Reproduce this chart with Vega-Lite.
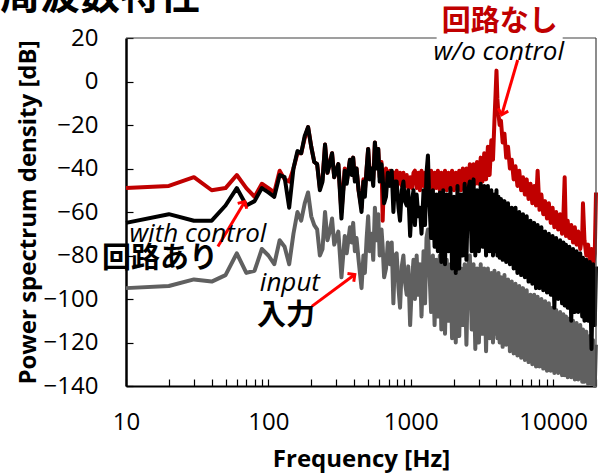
{
"$schema": "https://vega.github.io/schema/vega-lite/v6.json",
"width": 470, "height": 348,
"autosize": {"type": "none"},
"padding": {"left": 126, "top": 38, "right": 3, "bottom": 88},
"config": {"view": {"stroke": null}, "font": "Open Sans", "axis": {"grid": false}},
"datasets": {
"psd": [
{"f":10,"r":-49,"k":-65,"g":-95},{"f":20,"r":-48,"k":-61,"g":-94},{"f":30,"r":-44,"k":-64,"g":-91},{"f":40,"r":-50,"k":-64,"g":-92},{"f":50,"r":-49,"k":-57,"g":-89},{"f":60,"r":-43,"k":-49,"g":-79},{"f":70,"r":-49,"k":-57,"g":-88},{"f":80,"r":-53,"k":-55,"g":-87},{"f":90,"r":-47,"k":-49,"g":-77},{"f":100,"r":-49,"k":-51,"g":-80},
{"f":110,"r":-51,"k":-53,"g":-84},{"f":120,"r":-41,"k":-43,"g":-73},{"f":130,"r":-45,"k":-44,"g":-76},{"f":140,"r":-46,"k":-58,"g":-84},{"f":150,"r":-40,"k":-40,"g":-70},{"f":160,"r":-33,"k":-32,"g":-60},{"f":170,"r":-33,"k":-33,"g":-64},{"f":180,"r":-26,"k":-25,"g":-56},{"f":190,"r":-21,"k":-21,"g":-51},{"f":200,"r":-30,"k":-30,"g":-62},
{"f":210,"r":-37,"k":-37,"g":-66},{"f":220,"r":-38,"k":-38,"g":-68},{"f":230,"r":-49,"k":-50,"g":-80},{"f":240,"r":-45,"k":-46,"g":-77},{"f":250,"r":-29,"k":-29,"g":-60},{"f":260,"r":-42,"k":-42,"g":-73},{"f":270,"r":-37,"k":-38,"g":-69},{"f":280,"r":-33,"k":-33,"g":-63},{"f":290,"r":-44,"k":-44,"g":-75},{"f":300,"r":-41,"k":-41,"g":-72},
{"f":310,"r":-38,"k":-38,"g":-69},{"f":326,"r":-60,"k":-63,"g":-90},{"f":344,"r":-40,"k":-41,"g":-71},{"f":355,"r":-46,"k":-47,"g":-79},{"f":374,"r":-36,"k":-36,"g":-67},{"f":385,"r":-42,"k":-43,"g":-74},{"f":394,"r":-35,"k":-35,"g":-65},{"f":405,"r":-45,"k":-46,"g":-78},{"f":416,"r":-40,"k":-40,"g":-72},{"f":430,"r":-50,"k":-50,"g":-82},
{"f":451,"r":-58,"k":-60,"g":-95},{"f":465,"r":-45,"k":-46,"g":-80},{"f":476,"r":-50,"k":-53,"g":-88},{"f":490,"r":-40,"k":-40,"g":-72},{"f":502,"r":-31,"k":-31,"g":-62},{"f":515,"r":-42,"k":-45,"g":-78},{"f":530,"r":-40,"k":-40,"g":-70},{"f":545,"r":-45,"k":-48,"g":-82},{"f":560,"r":-28,"k":-28,"g":-58},{"f":575,"r":-38,"k":-40,"g":-73},
{"f":591,"r":-31,"k":-31,"g":-61},{"f":605,"r":-44,"k":-46,"g":-80},{"f":623,"r":-37,"k":-38,"g":-68},{"f":635,"r":-64,"k":-44,"g":-76},{"f":650,"r":-42,"k":-56,"g":-90},{"f":670,"r":-40,"k":-53,"g":-86},{"f":690,"r":-45,"k":-42,"g":-74},{"f":714,"r":-41,"k":-48,"g":-84},{"f":735,"r":-47,"k":-41,"g":-74},{"f":755,"r":-42,"k":-60,"g":-102},
{"f":775,"r":-46,"k":-46,"g":-80},{"f":796,"r":-41,"k":-46,"g":-79},{"f":820,"r":-47,"k":-58,"g":-95},{"f":841,"r":-42,"k":-64,"g":-104},{"f":865,"r":-48,"k":-50,"g":-85},{"f":888,"r":-42,"k":-46,"g":-80},{"f":910,"r":-48,"k":-55,"g":-92},{"f":937,"r":-43,"k":-57,"g":-98},{"f":960,"r":-49,"k":-50,"g":-85},{"f":990,"r":-44,"k":-71,"g":-112},
{"f":1020,"r":-49,"k":-55,"g":-92},{"f":1045,"r":-42,"k":-50,"g":-82},{"f":1070,"r":-41,"k":-66,"g":-100},{"f":1100,"r":-49,"k":-52,"g":-80},{"f":1130,"r":-42,"k":-62,"g":-98},{"f":1160,"r":-50,"k":-58,"g":-84},{"f":1190,"r":-41,"k":-70,"g":-108},{"f":1230,"r":-48,"k":-50,"g":-78},{"f":1260,"r":-42,"k":-66,"g":-102},{"f":1290,"r":-49,"k":-42,"g":-72},
{"f":1320,"r":-43,"k":-34,"g":-68},{"f":1350,"r":-48,"k":-55,"g":-86},{"f":1390,"r":-41,"k":-72,"g":-106},{"f":1430,"r":-50,"k":-50,"g":-80},{"f":1470,"r":-42,"k":-76,"g":-112},{"f":1510,"r":-49,"k":-52,"g":-82},{"f":1550,"r":-41,"k":-78,"g":-108},{"f":1600,"r":-50,"k":-51,"g":-80},{"f":1640,"r":-42,"k":-83,"g":-114},{"f":1690,"r":-49,"k":-50,"g":-83},
{"f":1740,"r":-41,"k":-84,"g":-116},{"f":1790,"r":-50,"k":-52,"g":-82},{"f":1840,"r":-42,"k":-78,"g":-110},{"f":1900,"r":-49,"k":-49,"g":-84},{"f":1950,"r":-41,"k":-86,"g":-118},{"f":2010,"r":-50,"k":-53,"g":-85},{"f":2070,"r":-42,"k":-88,"g":-120},{"f":2130,"r":-49,"k":-48,"g":-82},{"f":2190,"r":-41,"k":-86,"g":-117},{"f":2250,"r":-50,"k":-52,"g":-86},
{"f":2320,"r":-40,"k":-80,"g":-112},{"f":2390,"r":-49,"k":-47,"g":-84},{"f":2460,"r":-40,"k":-82,"g":-121},{"f":2530,"r":-48,"k":-50,"g":-85},{"f":2600,"r":-38,"k":-46,"g":-80},{"f":2680,"r":-48,"k":-78,"g":-114},{"f":2760,"r":-38,"k":-45,"g":-84},{"f":2840,"r":-47,"k":-80,"g":-123},{"f":2920,"r":-37,"k":-50,"g":-86},{"f":3010,"r":-47,"k":-78,"g":-120},
{"f":3100,"r":-35,"k":-47,"g":-84},{"f":3190,"r":-46,"k":-76,"g":-116},{"f":3280,"r":-33,"k":-48,"g":-86},{"f":3380,"r":-45,"k":-80,"g":-124},{"f":3480,"r":-30,"k":-48,"g":-86},{"f":3580,"r":-43,"k":-78,"g":-118},{"f":3680,"r":-27,"k":-50,"g":-88},{"f":3780,"r":-36,"k":-80,"g":-120},{"f":3870,"r":-18,"k":-52,"g":-87},{"f":3940,"r":-6,"k":-78,"g":-116},
{"f":4000,"r":5,"k":-50,"g":-89},{"f":4060,"r":-8,"k":-80,"g":-118},{"f":4130,"r":-15,"k":-53,"g":-88},{"f":4210,"r":-20,"k":-81,"g":-120},{"f":4300,"r":-18,"k":-54,"g":-90},{"f":4420,"r":-28,"k":-82,"g":-122},{"f":4550,"r":-24,"k":-55,"g":-89},{"f":4680,"r":-35,"k":-83,"g":-121},{"f":4820,"r":-30,"k":-56,"g":-91},{"f":4970,"r":-40,"k":-84,"g":-124},
{"f":5120,"r":-36,"k":-58,"g":-92},{"f":5280,"r":-45,"k":-86,"g":-125},{"f":5440,"r":-39,"k":-58,"g":-93},{"f":5610,"r":-48,"k":-88,"g":-126},{"f":5780,"r":-41,"k":-60,"g":-94},{"f":5960,"r":-50,"k":-89,"g":-127},{"f":6140,"r":-44,"k":-61,"g":-95},{"f":6330,"r":-52,"k":-90,"g":-128},{"f":6520,"r":-45,"k":-62,"g":-96},{"f":6720,"r":-54,"k":-92,"g":-129},
{"f":6930,"r":-47,"k":-64,"g":-98},{"f":7140,"r":-56,"k":-93,"g":-130},{"f":7360,"r":-48,"k":-65,"g":-98},{"f":7580,"r":-57,"k":-95,"g":-131},{"f":7780,"r":-41,"k":-66,"g":-99},{"f":8020,"r":-59,"k":-95,"g":-131},{"f":8270,"r":-52,"k":-67,"g":-100},{"f":8520,"r":-61,"k":-96,"g":-132},{"f":8780,"r":-55,"k":-69,"g":-101},{"f":9050,"r":-63,"k":-97,"g":-133},
{"f":9330,"r":-56,"k":-70,"g":-102},{"f":9620,"r":-65,"k":-98,"g":-133},{"f":9910,"r":-58,"k":-71,"g":-104},{"f":10200,"r":-67,"k":-104,"g":-134},{"f":10500,"r":-60,"k":-72,"g":-105},{"f":10850,"r":-68,"k":-100,"g":-134},{"f":11200,"r":-61,"k":-73,"g":-106},{"f":11550,"r":-70,"k":-102,"g":-135},{"f":11800,"r":-62,"k":-74,"g":-107},{"f":12050,"r":-44,"k":-103,"g":-135},
{"f":12300,"r":-71,"k":-75,"g":-108},{"f":12650,"r":-64,"k":-104,"g":-136},{"f":13000,"r":-72,"k":-76,"g":-109},{"f":13400,"r":-66,"k":-110,"g":-136},{"f":13800,"r":-74,"k":-77,"g":-110},{"f":14200,"r":-67,"k":-106,"g":-137},{"f":14600,"r":-75,"k":-78,"g":-111},{"f":15000,"r":-69,"k":-106,"g":-137},{"f":15500,"r":-77,"k":-79,"g":-112},{"f":16000,"r":-71,"k":-108,"g":-138},
{"f":16200,"r":-56,"k":-81,"g":-114},{"f":16600,"r":-73,"k":-110,"g":-138},{"f":17100,"r":-80,"k":-82,"g":-115},{"f":17600,"r":-75,"k":-110,"g":-139},{"f":18100,"r":-82,"k":-83,"g":-117},{"f":18600,"r":-77,"k":-123,"g":-139},{"f":19100,"r":-85,"k":-84,"g":-119},{"f":19600,"r":-79,"k":-112,"g":-140},{"f":20000,"r":-51,"k":-85,"g":-121}
]
},
"encoding": {
  "x": {"field": "f", "type": "quantitative", "scale": {"type": "log", "domain": [10, 20000], "nice": false},
   "axis": {"values": [10,20,30,40,50,60,70,80,90,100,200,300,400,500,600,700,800,900,1000,2000,3000,4000,5000,6000,7000,8000,9000,10000,20000],
    "labelExpr": "indexof([10,100,1000,10000], datum.value) >= 0 ? datum.label : ''", "format": "d",
    "title": "Frequency [Hz]", "titleFont": "Open Sans", "titleFontSize": 24, "titleFontWeight": "bold", "titleColor": "black",
    "labelFont": "Open Sans", "labelFontSize": 24, "labelColor": "black", "labelOverlap": false, "labelFlush": false,
    "domainColor": "black", "domainWidth": 2, "tickColor": "black", "tickWidth": 1.2, "tickSize": -7, "labelPadding": 31, "titlePadding": 13}},
  "y": {"field": "d", "type": "quantitative", "scale": {"domain": [-140, 20], "nice": false, "zero": false},
   "axis": {"values": [-140,-120,-100,-80,-60,-40,-20,0,20], "title": "Power spectrum density [dB]",
    "titleFont": "Open Sans", "titleFontSize": 24, "titleFontWeight": "bold", "titleColor": "black",
    "labelFont": "Open Sans", "labelFontSize": 24, "labelColor": "black", "labelOverlap": false, "labelFlush": false,
    "domainColor": "black", "domainWidth": 2.5, "tickColor": "black", "tickWidth": 1.2, "tickSize": -7, "labelPadding": 35, "titlePadding": 3}}
},
"layer": [
{"data": {"name": "psd"}, "transform": [{"fold": ["g"], "as": ["s", "d"]}],
 "mark": {"type": "line", "color": "#606060", "strokeWidth": 4, "strokeJoin": "round"}},
{"data": {"name": "psd"}, "transform": [{"fold": ["r"], "as": ["s", "d"]}],
 "mark": {"type": "line", "color": "#C00000", "strokeWidth": 4, "strokeJoin": "round"}},
{"data": {"name": "psd"}, "transform": [{"fold": ["k"], "as": ["s", "d"]}],
 "mark": {"type": "line", "color": "#000000", "strokeWidth": 4, "strokeJoin": "round"}},
{"data": {"values": [{"f":10,"f2":1520,"d":20,"d2":20},{"f":11670,"f2":20000,"d":20,"d2":20},{"f":20000,"f2":20000,"d":20,"d2":-140}]},
 "mark": {"type": "rule", "color": "#404040", "strokeWidth": 1.2},
 "encoding": {"x2": {"field": "f2"}, "y2": {"field": "d2"}}},
{"data": {"values": [{"f":5636,"d":9.9,"f2":4355,"d2":-15.3},{"f":44.2,"d":-75.9,"f2":68.4,"d2":-55.2},{"f":201.8,"d":-103.4,"f2":404.6,"d2":-88.7}]},
 "mark": {"type": "rule", "color": "#FF0000", "strokeWidth": 3},
 "encoding": {"x2": {"field": "f2"}, "y2": {"field": "d2"}}},
{"data": {"values": [{"f":4355,"d":-15.3}]},
 "mark": {"type": "point", "shape": "M-1,1L0,0L1,1", "filled": false, "stroke": "#FF0000", "strokeWidth": 3, "size": 110, "angle": 196, "opacity": 1}},
{"data": {"values": [{"f":68.4,"d":-55.2}]},
 "mark": {"type": "point", "shape": "M-1,1L0,0L1,1", "filled": false, "stroke": "#FF0000", "strokeWidth": 3, "size": 110, "angle": 31, "opacity": 1}},
{"data": {"values": [{"f":404.6,"d":-88.7}]},
 "mark": {"type": "point", "shape": "M-1,1L0,0L1,1", "filled": false, "stroke": "#FF0000", "strokeWidth": 3, "size": 110, "angle": 53, "opacity": 1}},
{"data": {"values": [{"f":4150,"d":9.9,"t":"w/o control"},{"f":32,"d":-74,"t":"with control"},{"f":141.6,"d":-96.5,"t":"input"}]},
 "mark": {"type": "text", "font": "Open Sans", "fontStyle": "italic", "fontSize": 26, "color": "black", "align": "center", "baseline": "alphabetic"},
 "encoding": {"text": {"field": "t"}}},
{"data": {"values": [{"f":17.3,"d":-81.8,"t":"回路あり"},{"f":132.8,"d":-108,"t":"入力"}]},
 "mark": {"type": "text", "font": "Noto Sans CJK JP", "fontWeight": "bold", "fontSize": 29, "color": "black", "align": "center", "baseline": "middle"},
 "encoding": {"text": {"field": "t"}}},
{"data": {"values": [{"f":4213,"d":27.3,"t":"回路なし"}]},
 "mark": {"type": "text", "font": "Noto Sans CJK JP", "fontWeight": "bold", "fontSize": 29, "color": "#C00000", "align": "center", "baseline": "middle"},
 "encoding": {"text": {"field": "t"}}},
{"data": {"values": [{"f":6.57,"d":38.8,"t":"周波数特性"}]},
 "mark": {"type": "text", "font": "Noto Sans CJK JP", "fontWeight": "bold", "fontSize": 40, "color": "black", "align": "center", "baseline": "middle"},
 "encoding": {"text": {"field": "t"}}}
]
}
